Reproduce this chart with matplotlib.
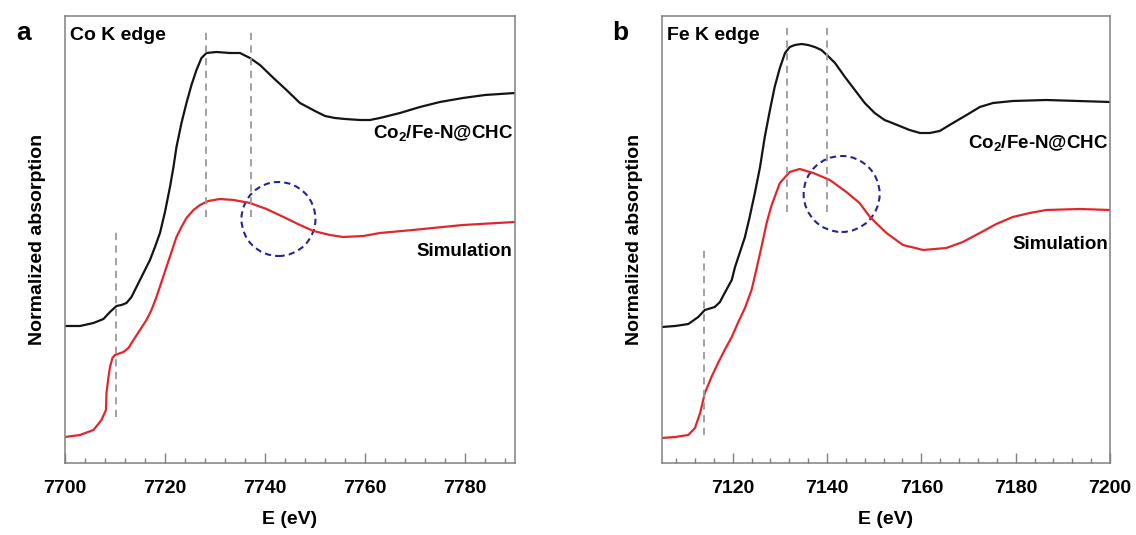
import matplotlib
matplotlib.use("Agg")
import matplotlib.pyplot as plt
from matplotlib.patches import Ellipse
from matplotlib.ticker import MultipleLocator

plt.rcParams['font.family'] = ['Liberation Sans', 'DejaVu Sans']
plt.rcParams['font.weight'] = 'bold'
plt.rcParams['mathtext.fontset'] = 'custom'
plt.rcParams['mathtext.rm'] = 'Liberation Sans:bold'
plt.rcParams['mathtext.bf'] = 'Liberation Sans:bold'
plt.rcParams['mathtext.default'] = 'rm'

# Co K edge (painel a) - absorcao normalizada (u.a., com deslocamento)
co_e_amostra = [7700, 7703, 7705.7, 7707.7, 7709, 7710.3, 7711.3, 7712.3, 7713.3, 7714.3,
                7715.7, 7717, 7718, 7719, 7720, 7721, 7721.7, 7722.3, 7723.3, 7724.3,
                7725.3, 7726.3, 7727.3, 7728.3, 7730.3, 7733, 7735, 7737, 7739, 7741.7,
                7744.3, 7747, 7750, 7752, 7754, 7756, 7759, 7761, 7763, 7767,
                7771, 7775, 7779.6, 7784, 7790]
co_amostra = [1.37, 1.37, 1.40, 1.44, 1.51, 1.57, 1.58, 1.60, 1.66, 1.76,
              1.90, 2.03, 2.16, 2.30, 2.51, 2.76, 2.96, 3.16, 3.40, 3.60,
              3.78, 3.93, 4.05, 4.10, 4.11, 4.10, 4.10, 4.05, 3.98, 3.85,
              3.73, 3.60, 3.52, 3.47, 3.45, 3.44, 3.43, 3.43, 3.45, 3.50,
              3.56, 3.61, 3.65, 3.68, 3.70]
co_e_sim = [7700, 7703, 7705.7, 7707.3, 7708.2, 7708.3, 7708.7, 7709, 7709.5, 7710,
            7711.7, 7712.7, 7713.7, 7715, 7716.3, 7717.3, 7718.3, 7719.3, 7720.3, 7721.3,
            7722.3, 7723.3, 7724.3, 7725.7, 7727, 7728.7, 7731, 7733.7, 7737, 7740.3,
            7743.7, 7747, 7749.7, 7753, 7755.6, 7759.7, 7763, 7769.6, 7779.6, 7790]
co_sim = [0.26, 0.28, 0.33, 0.43, 0.53, 0.70, 0.86, 0.96, 1.05, 1.08,
          1.11, 1.15, 1.23, 1.33, 1.43, 1.53, 1.66, 1.81, 1.96, 2.11,
          2.26, 2.36, 2.45, 2.53, 2.58, 2.62, 2.64, 2.63, 2.60, 2.54,
          2.46, 2.38, 2.32, 2.28, 2.26, 2.27, 2.30, 2.33, 2.38, 2.41]

# Fe K edge (painel b)
fe_e_amostra = [7105, 7107.8, 7110.6, 7112.7, 7114.1, 7116.2, 7117.3, 7118.3, 7119.8, 7120.5,
                7122.6, 7123.6, 7124.7, 7125.8, 7126.8, 7127.9, 7128.9, 7130, 7131.1, 7132.1,
                7133.2, 7134.6, 7136, 7137.4, 7138.8, 7140.2, 7141.7, 7143.8, 7145.9, 7148,
                7150.1, 7152.2, 7153.3, 7155.4, 7157.5, 7159.7, 7161.8, 7163.9, 7166.7, 7169.6,
                7172.4, 7175.2, 7179.4, 7186.5, 7200]
fe_amostra = [1.36, 1.37, 1.39, 1.46, 1.53, 1.56, 1.61, 1.70, 1.83, 1.96,
              2.26, 2.46, 2.70, 2.96, 3.26, 3.53, 3.76, 3.95, 4.10, 4.16,
              4.18, 4.19, 4.18, 4.16, 4.13, 4.07, 4.00, 3.86, 3.73, 3.60,
              3.50, 3.43, 3.41, 3.37, 3.33, 3.30, 3.30, 3.32, 3.40, 3.48,
              3.56, 3.60, 3.62, 3.63, 3.61]
fe_e_sim = [7105, 7107.8, 7110.6, 7112, 7113.1, 7114.1, 7115.5, 7116.9, 7118.3, 7119.8,
            7121.1, 7122.6, 7124, 7125, 7126.1, 7127.2, 7128.2, 7130, 7132.1, 7134.2,
            7137.1, 7140.6, 7144.1, 7146.9, 7149.1, 7152.6, 7156.1, 7160.4, 7165.3, 7168.8,
            7172.4, 7175.9, 7179.4, 7183, 7186.5, 7193.6, 7200]
fe_sim = [0.25, 0.26, 0.28, 0.35, 0.50, 0.70, 0.86, 1.00, 1.13, 1.26,
          1.40, 1.55, 1.73, 1.93, 2.16, 2.40, 2.57, 2.80, 2.91, 2.94,
          2.90, 2.83, 2.71, 2.60, 2.46, 2.30, 2.18, 2.13, 2.15, 2.21,
          2.30, 2.39, 2.46, 2.50, 2.53, 2.54, 2.53]

# linhas tracejadas de referencia: (energia, y inicial, y final)
co_linhas = [(7710.3, 0.46, 2.33), (7728.3, 2.46, 4.33), (7737.2, 2.46, 4.33)]
fe_linhas = [(7114.0, 0.28, 2.15), (7131.6, 2.51, 4.38), (7140.0, 2.51, 4.38)]

ROTULO = r'Co$_2$/Fe-N@CHC'
CINZA = '#808080'


def desenhar_painel(ax, e_am, am, e_sim, sim, linhas, xlim, titulo, letra,
                    circulo, pos_amostra, pos_sim):
    ax.plot(e_am, am, color='#141414', lw=1.6)
    ax.plot(e_sim, sim, color='#e3262b', lw=1.6)
    for x, y0, y1 in linhas:
        ax.plot([x, x], [y0, y1], color='#9a9a9a', lw=1.3, ls=(0, (4, 3)))

    ax.set_xlim(*xlim)
    ax.set_ylim(0, 4.47)
    ax.xaxis.set_major_locator(MultipleLocator(20))
    ax.xaxis.set_minor_locator(MultipleLocator(4))
    ax.set_yticks([])
    ax.tick_params(axis='x', which='major', direction='in', length=7, width=1,
                   color=CINZA, labelsize=14, pad=12)
    ax.tick_params(axis='x', which='minor', direction='in', length=3.5, width=1,
                   color=CINZA)
    for s in ax.spines.values():
        s.set_color(CINZA)
        s.set_linewidth(1.1)

    ax.set_xlabel('E (eV)', fontsize=14, fontweight='bold', labelpad=10)
    ax.set_ylabel('Normalized absorption', fontsize=14, fontweight='bold', labelpad=14)

    ax.text(0.012, 0.957, titulo, transform=ax.transAxes, fontsize=14,
            fontweight='bold', va='center', ha='left')
    ax.text(-0.093, 0.962, letra, transform=ax.transAxes, fontsize=19,
            fontweight='bold', va='center', ha='center')
    ax.text(0.995, pos_amostra, ROTULO, transform=ax.transAxes, fontsize=13.5,
            fontweight='bold', va='center', ha='right')
    ax.text(0.995, pos_sim, 'Simulation', transform=ax.transAxes, fontsize=13.5,
            fontweight='bold', va='center', ha='right')

    # circulo tracejado azul (redondo em pixels)
    cx, cy, r_px = circulo
    bb = ax.get_window_extent()
    px_x = bb.width / (xlim[1] - xlim[0])
    px_y = bb.height / 4.47
    ax.add_patch(Ellipse((cx, cy), 2 * r_px / px_x, 2 * r_px / px_y, fill=False,
                         edgecolor='#24249a', lw=1.5, ls=(0, (3, 2))))


fig = plt.figure(figsize=(11.36, 5.35), dpi=100)
ax_a = fig.add_axes([0.0572, 0.1346, 0.3961, 0.8355])
ax_b = fig.add_axes([0.5827, 0.1346, 0.3944, 0.8355])

desenhar_painel(ax_a, co_e_amostra, co_amostra, co_e_sim, co_sim, co_linhas,
                (7700, 7790), 'Co K edge', 'a', (7742.7, 2.44, 37), 0.738, 0.473)
desenhar_painel(ax_b, fe_e_amostra, fe_amostra, fe_e_sim, fe_sim, fe_linhas,
                (7105, 7200), 'Fe K edge', 'b', (7143.1, 2.69, 38), 0.715, 0.488)

fig.savefig('out.png', dpi=100)
